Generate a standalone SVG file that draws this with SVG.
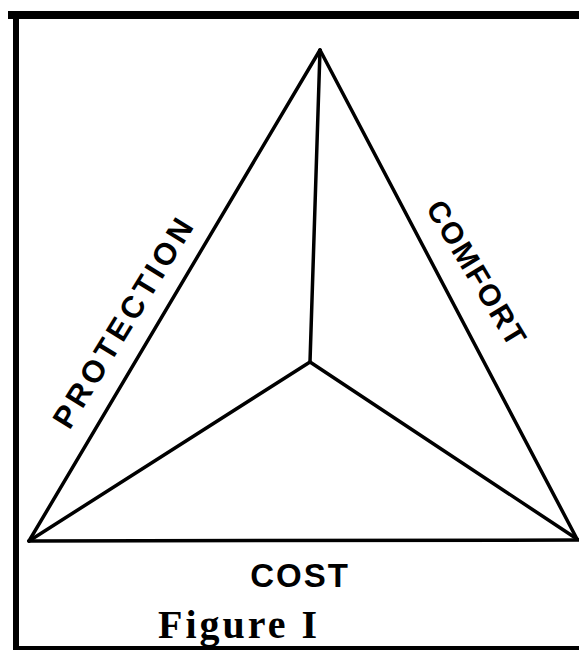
<svg xmlns="http://www.w3.org/2000/svg" width="579" height="650" viewBox="0 0 579 650">
<style>
.edge{stroke:#000;stroke-width:3.5;fill:none;stroke-linecap:round}
.lbl{font-family:"Liberation Sans",Arial,sans-serif;font-weight:bold;fill:#000;text-anchor:middle}
.cap{font-family:"Liberation Serif","Times New Roman",serif;font-weight:bold;font-size:40px;fill:#000;letter-spacing:3px}
</style>
<rect width="579" height="650" fill="#fff"/>
<g id="frame" fill="none" stroke="#000">
<line x1="8" y1="15" x2="579" y2="15" stroke-width="8"/>
<line x1="16" y1="11" x2="16" y2="650" stroke-width="6"/>
<line x1="13" y1="648" x2="579" y2="648" stroke-width="4"/>
</g>
<g id="connectors">
<line class="edge" x1="320" y1="50" x2="29" y2="541"/>
<line class="edge" x1="320" y1="50" x2="577" y2="539"/>
<line class="edge" x1="29" y1="541" x2="579" y2="540"/>
<line class="edge" x1="320" y1="50" x2="310" y2="362"/>
<line class="edge" x1="310" y1="362" x2="29" y2="541"/>
<line class="edge" x1="310" y1="362" x2="577" y2="539"/>
</g>
<g id="protection"><text class="lbl" font-size="31" letter-spacing="4" transform="translate(133,327) rotate(-58.5)">PROTECTION</text></g>
<g id="comfort"><text class="lbl" font-size="30" letter-spacing="2" transform="translate(468,279) rotate(59)">COMFORT</text></g>
<g id="cost"><text class="lbl" font-size="33" letter-spacing="2" x="300" y="587">COST</text></g>
<g id="caption"><text class="cap" x="158" y="638">Figure I</text></g>
</svg>
